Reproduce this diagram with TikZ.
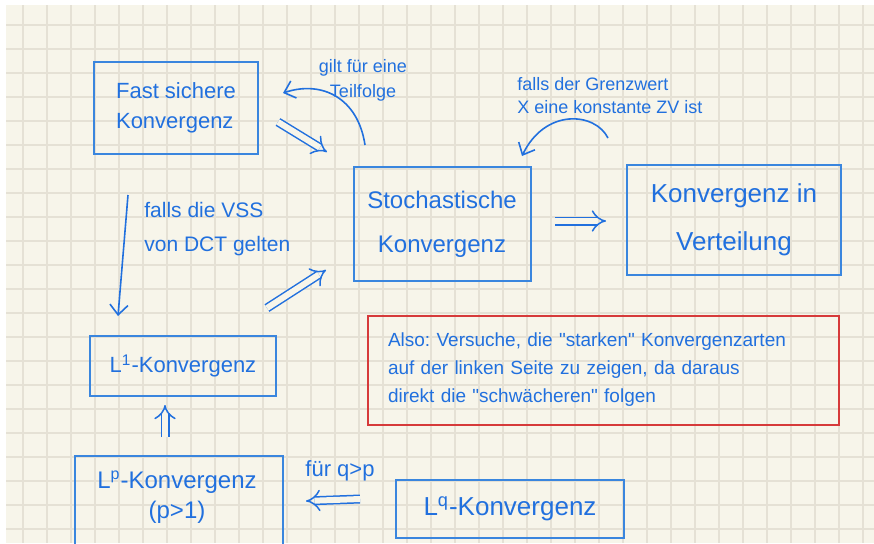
\documentclass[tikz,border=0pt]{standalone}
\usepackage{fontspec}
\setmainfont{Liberation Sans}
\usetikzlibrary{
    arrows.meta,
    calc,
    positioning
}
\frenchspacing
\definecolor{paper}{RGB}{247,245,234}
\definecolor{gridgray}{RGB}{229,225,213}
\definecolor{boxblue}{RGB}{58,134,222}
\definecolor{inkblue}{RGB}{33,112,222}
\definecolor{hintred}{RGB}{214,58,58}
\tikzset{
    box/.style={draw=boxblue, line width=1pt, inner sep=0pt, text=inkblue},
    hint/.style={draw=hintred, line width=1pt, inner sep=0pt, text=inkblue},
    note/.style={text=inkblue, inner sep=0pt},
    impl/.style={draw=inkblue, line width=0.75pt, double=paper, double distance=3pt, -{Implies}},
    pfeil/.style={draw=inkblue, line width=0.8pt, -{Straight Barb[length=5pt,width=9pt]}},
    gridline/.style={draw=gridgray, line width=0.55pt}
}

\begin{document}
\begin{tikzpicture}[x=0.5pt, y=-0.5pt]
    \useasboundingbox (0,0) rectangle (874,543);
    \fill[white] (0,0) rectangle (874,543);
    \fill[paper] (6,5) rectangle (874,543);
    \foreach \k in {0,...,35}
        \draw[gridline] ({23+24*\k},5) -- ({23+24*\k},543);
    \foreach \k in {0,...,21}
        \draw[gridline] (6,{25+24*\k}) -- (874,{25+24*\k});

    \node[box, minimum width=82pt, minimum height=46pt, align=left, font=\fontsize{11}{15}\selectfont] (fs) at (176,108) {Fast sichere\\Konvergenz};
    \node[box, minimum width=88.5pt, minimum height=57pt, align=center, font=\fontsize{12}{22}\selectfont] (sk) at (442,224) {Stochastische\\Konvergenz};
    \node[box, minimum width=107pt, minimum height=55pt, align=center, font=\fontsize{13}{24}\selectfont] (kv) at (734,220) {Konvergenz in\\Verteilung};
    \node[box, minimum width=93pt, minimum height=30pt, font=\fontsize{11}{13}\selectfont] (lone) at (183,366) {L\textsuperscript{1}-Konvergenz};
    \node[box, minimum width=104pt, minimum height=52pt] (lp) at (179,508) {};
    \node[note, align=center, font=\fontsize{12}{15}\selectfont] (lptext) at (177,497) {L\textsuperscript{p}-Konvergenz\\(p>1)};
    \node[box, minimum width=114pt, minimum height=29pt, font=\fontsize{13}{15}\selectfont] (lq) at (510,509) {L\textsuperscript{q}-Konvergenz};
    \node[hint, minimum width=235.5pt, minimum height=54.5pt, text width=215pt, align=left, font=\fontsize{9.5}{14}\selectfont] (tipp) at (603,370) {Also: Versuche, die \textquotedbl starken\textquotedbl{} Konvergenzarten\\auf der linken Seite zu zeigen, da daraus\\direkt die \textquotedbl schwächeren\textquotedbl{} folgen};

    \node[note, align=center, font=\fontsize{9}{12.5}\selectfont] (teilfolge) at (363,80) {gilt für eine\\Teilfolge};
    \node[note, align=left, anchor=west, font=\fontsize{9}{11.5}\selectfont] (grenzwert) at (517,96) {falls der Grenzwert\\X eine konstante ZV ist};
    \node[note, align=left, anchor=west, font=\fontsize{10.5}{17}\selectfont] (dct) at (144,229) {falls die VSS\\von DCT gelten};
    \node[note, font=\fontsize{11}{13}\selectfont] (qp) at (340,471) {für q>p};

    \coordinate (fs-out) at (278,122);
    \coordinate (sk-in1) at (327,152);
    \coordinate (sk-out) at (555,221);
    \coordinate (kv-in) at (606,221);
    \coordinate (lone-out) at (267,308);
    \coordinate (sk-in2) at (326,270);
    \coordinate (lp-out) at (165,437);
    \coordinate (lone-in1) at (165,405);
    \coordinate (lq-out) at (360,499);
    \coordinate (lp-in) at (306,501);
    \coordinate (fs-down) at (128,195);
    \coordinate (lone-in2) at (118,316);
    \coordinate (tf-start) at (365,145);
    \coordinate (tf-end) at (283,93);
    \coordinate (gw-start) at (608,138);
    \coordinate (gw-end) at (522,156);

    \draw[impl] (fs-out) -- (sk-in1);
    \draw[impl] (sk-out) -- (kv-in);
    \draw[impl] (lone-out) -- (sk-in2);
    \draw[impl] (lp-out) -- (lone-in1);
    \draw[impl] (lq-out) -- (lp-in);
    \draw[pfeil] (fs-down) -- (lone-in2);
    \draw[pfeil] (tf-start) .. controls (358,98) and (322,80) .. (tf-end);
    \draw[pfeil] (gw-start) .. controls (595,112) and (545,108) .. (gw-end);
\end{tikzpicture}
\end{document}
